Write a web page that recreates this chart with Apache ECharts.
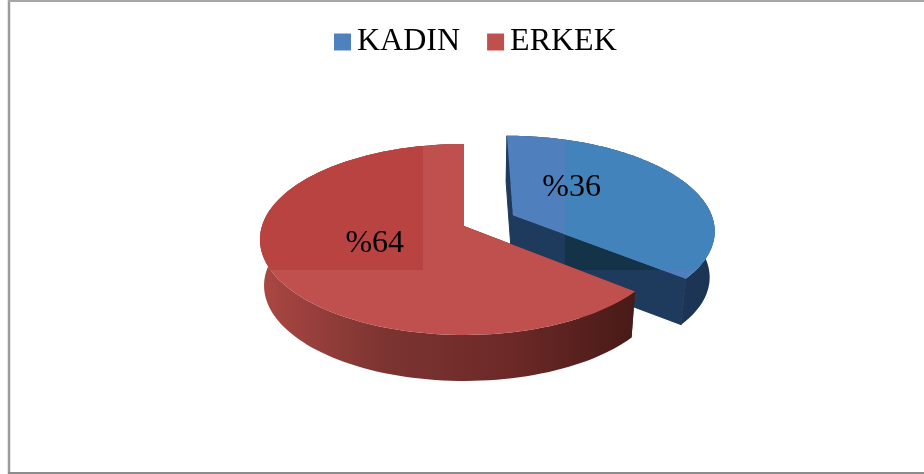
<!DOCTYPE html>
<html>
<head>
<meta charset="utf-8">
<script src="https://cdn.jsdelivr.net/npm/echarts@6/dist/echarts.min.js"></script>
<style>
  html, body { margin: 0; padding: 0; background: #fff; }
  #chart { width: 924px; height: 474px; }
</style>
</head>
<body>
<div id="chart"></div>
<script>
const categories = ["KADIN", "ERKEK"];
const values = [36, 64];

// pie disc seen in perspective
const CX = 464, CY = 226, RX = 202, RY = 93.6, PERSP = 0.141, DEPTH = 46, TAPER = 0.98;
const EXPLODE = [0.272, 0];
// label place on the disc, in units of the radius
const labelAt = [[0.565, 0.43], [-0.43, -0.187]];

const looks = [
  {
    top: "#4f80bd", cut: "#1e3a5c", cutEdge: "#1e3a5c",
    wallStops: ["#1e3a5c", "#1c3454"],
    tile: { x: 565, y: 100, width: 160, height: 170 }, tileTop: "#4383bb", tileCut: "#143349"
  },
  {
    top: "#bf504e", cut: "#5a1f1c", cutEdge: null,
    wallStops: ["#ab4743", "#7c3431", "#6c2927", "#481a17"],
    tile: { x: 250, y: 130, width: 173, height: 140 }, tileTop: "#b94341", tileCut: "#5a1f1c"
  }
];

function project(u, v) {
  const w = 1 / (1 + PERSP * v);
  return [CX + RX * u * w, CY - RY * v * w];
}
function lower(p) {
  return [CX + (p[0] - CX) * TAPER, p[1] + DEPTH];
}

function sliceShapes(idx, value) {
  const total = values.reduce((a, b) => a + b, 0);
  let before = 0;
  for (let i = 0; i < idx; i++) before += values[i];
  const a0 = before / total * Math.PI * 2;
  const a1 = a0 + value / total * Math.PI * 2;
  const mid = (a0 + a1) / 2;
  const ou = EXPLODE[idx] * Math.sin(mid), ov = EXPLODE[idx] * Math.cos(mid);
  const arc = [];
  const n = 120;
  for (let i = 0; i <= n; i++) {
    const a = a0 + (a1 - a0) * i / n;
    arc.push(project(ou + Math.sin(a), ov + Math.cos(a)));
  }
  return { apex: project(ou, ov), arc };
}

function renderSlice(params, api) {
  const idx = params.seriesIndex;
  const value = api.value(0);
  const look = looks[idx];
  const s = sliceShapes(idx, value);
  const top = [s.apex].concat(s.arc);
  const wallPts = s.arc.concat(s.arc.slice().reverse().map(lower));
  const xs = s.arc.map(p => p[0]);
  const wallFill = new echarts.graphic.LinearGradient(
    Math.min.apply(null, xs), 0, Math.max.apply(null, xs), 0,
    look.wallStops.map((c, i) => ({ offset: i / (look.wallStops.length - 1), color: c })),
    true
  );
  const first = s.arc[0], last = s.arc[s.arc.length - 1];
  const cutA = [s.apex, first, lower(first), lower(s.apex)];
  const cutB = [s.apex, last, lower(last), lower(s.apex)];
  const poly = (points, fill, edge) => ({
    type: "polygon",
    shape: { points },
    style: { fill, stroke: edge || null, lineWidth: edge ? 1 : 0 }
  });
  const tiled = (el) => Object.assign(el, { clipPath: { type: "rect", shape: look.tile } });
  const lp = project(labelAt[idx][0], labelAt[idx][1]);
  const children = [
    poly(cutA, look.cut, look.cutEdge),
    poly(cutB, look.cut, look.cutEdge),
    tiled(poly(cutB, look.tileCut)),
    poly(wallPts, wallFill),
    poly(top, look.top),
    tiled(poly(top, look.tileTop)),
    {
      type: "text",
      x: lp[0], y: lp[1],
      style: {
        text: "%" + value,
        fill: "#000",
        font: "32px 'Liberation Serif'",
        textAlign: "center",
        textVerticalAlign: "middle"
      }
    }
  ];
  return { type: "group", children };
}

const chart = echarts.init(document.getElementById("chart"), null, { renderer: "canvas" });
chart.setOption({
  backgroundColor: "#fff",
  animation: false,
  legend: {
    top: 26,
    left: 334,
    padding: 0,
    icon: "rect",
    itemWidth: 17,
    itemHeight: 17,
    itemGap: 27,
    textStyle: { fontFamily: "Liberation Serif", fontSize: 32, color: "#000", padding: [0, 0, 0, 1] },
    data: categories
  },
  graphic: [
    { type: "line", shape: { x1: 9, y1: 0, x2: 9, y2: 474 }, style: { stroke: "#9c9c9c", lineWidth: 2.5 } },
    { type: "line", shape: { x1: 8, y1: 1, x2: 924, y2: 1 }, style: { stroke: "#a6a6a6", lineWidth: 2 } },
    { type: "line", shape: { x1: 8, y1: 473, x2: 924, y2: 473 }, style: { stroke: "#8c8c8c", lineWidth: 2 } }
  ],
  series: categories.map((name, i) => ({
    type: "custom",
    name,
    coordinateSystem: "none",
    itemStyle: { color: i === 0 ? "#4f81bd" : "#c0504d" },
    renderItem: renderSlice,
    data: [[values[i]]],
    z: 2 + i
  }))
});
</script>
</body>
</html>
